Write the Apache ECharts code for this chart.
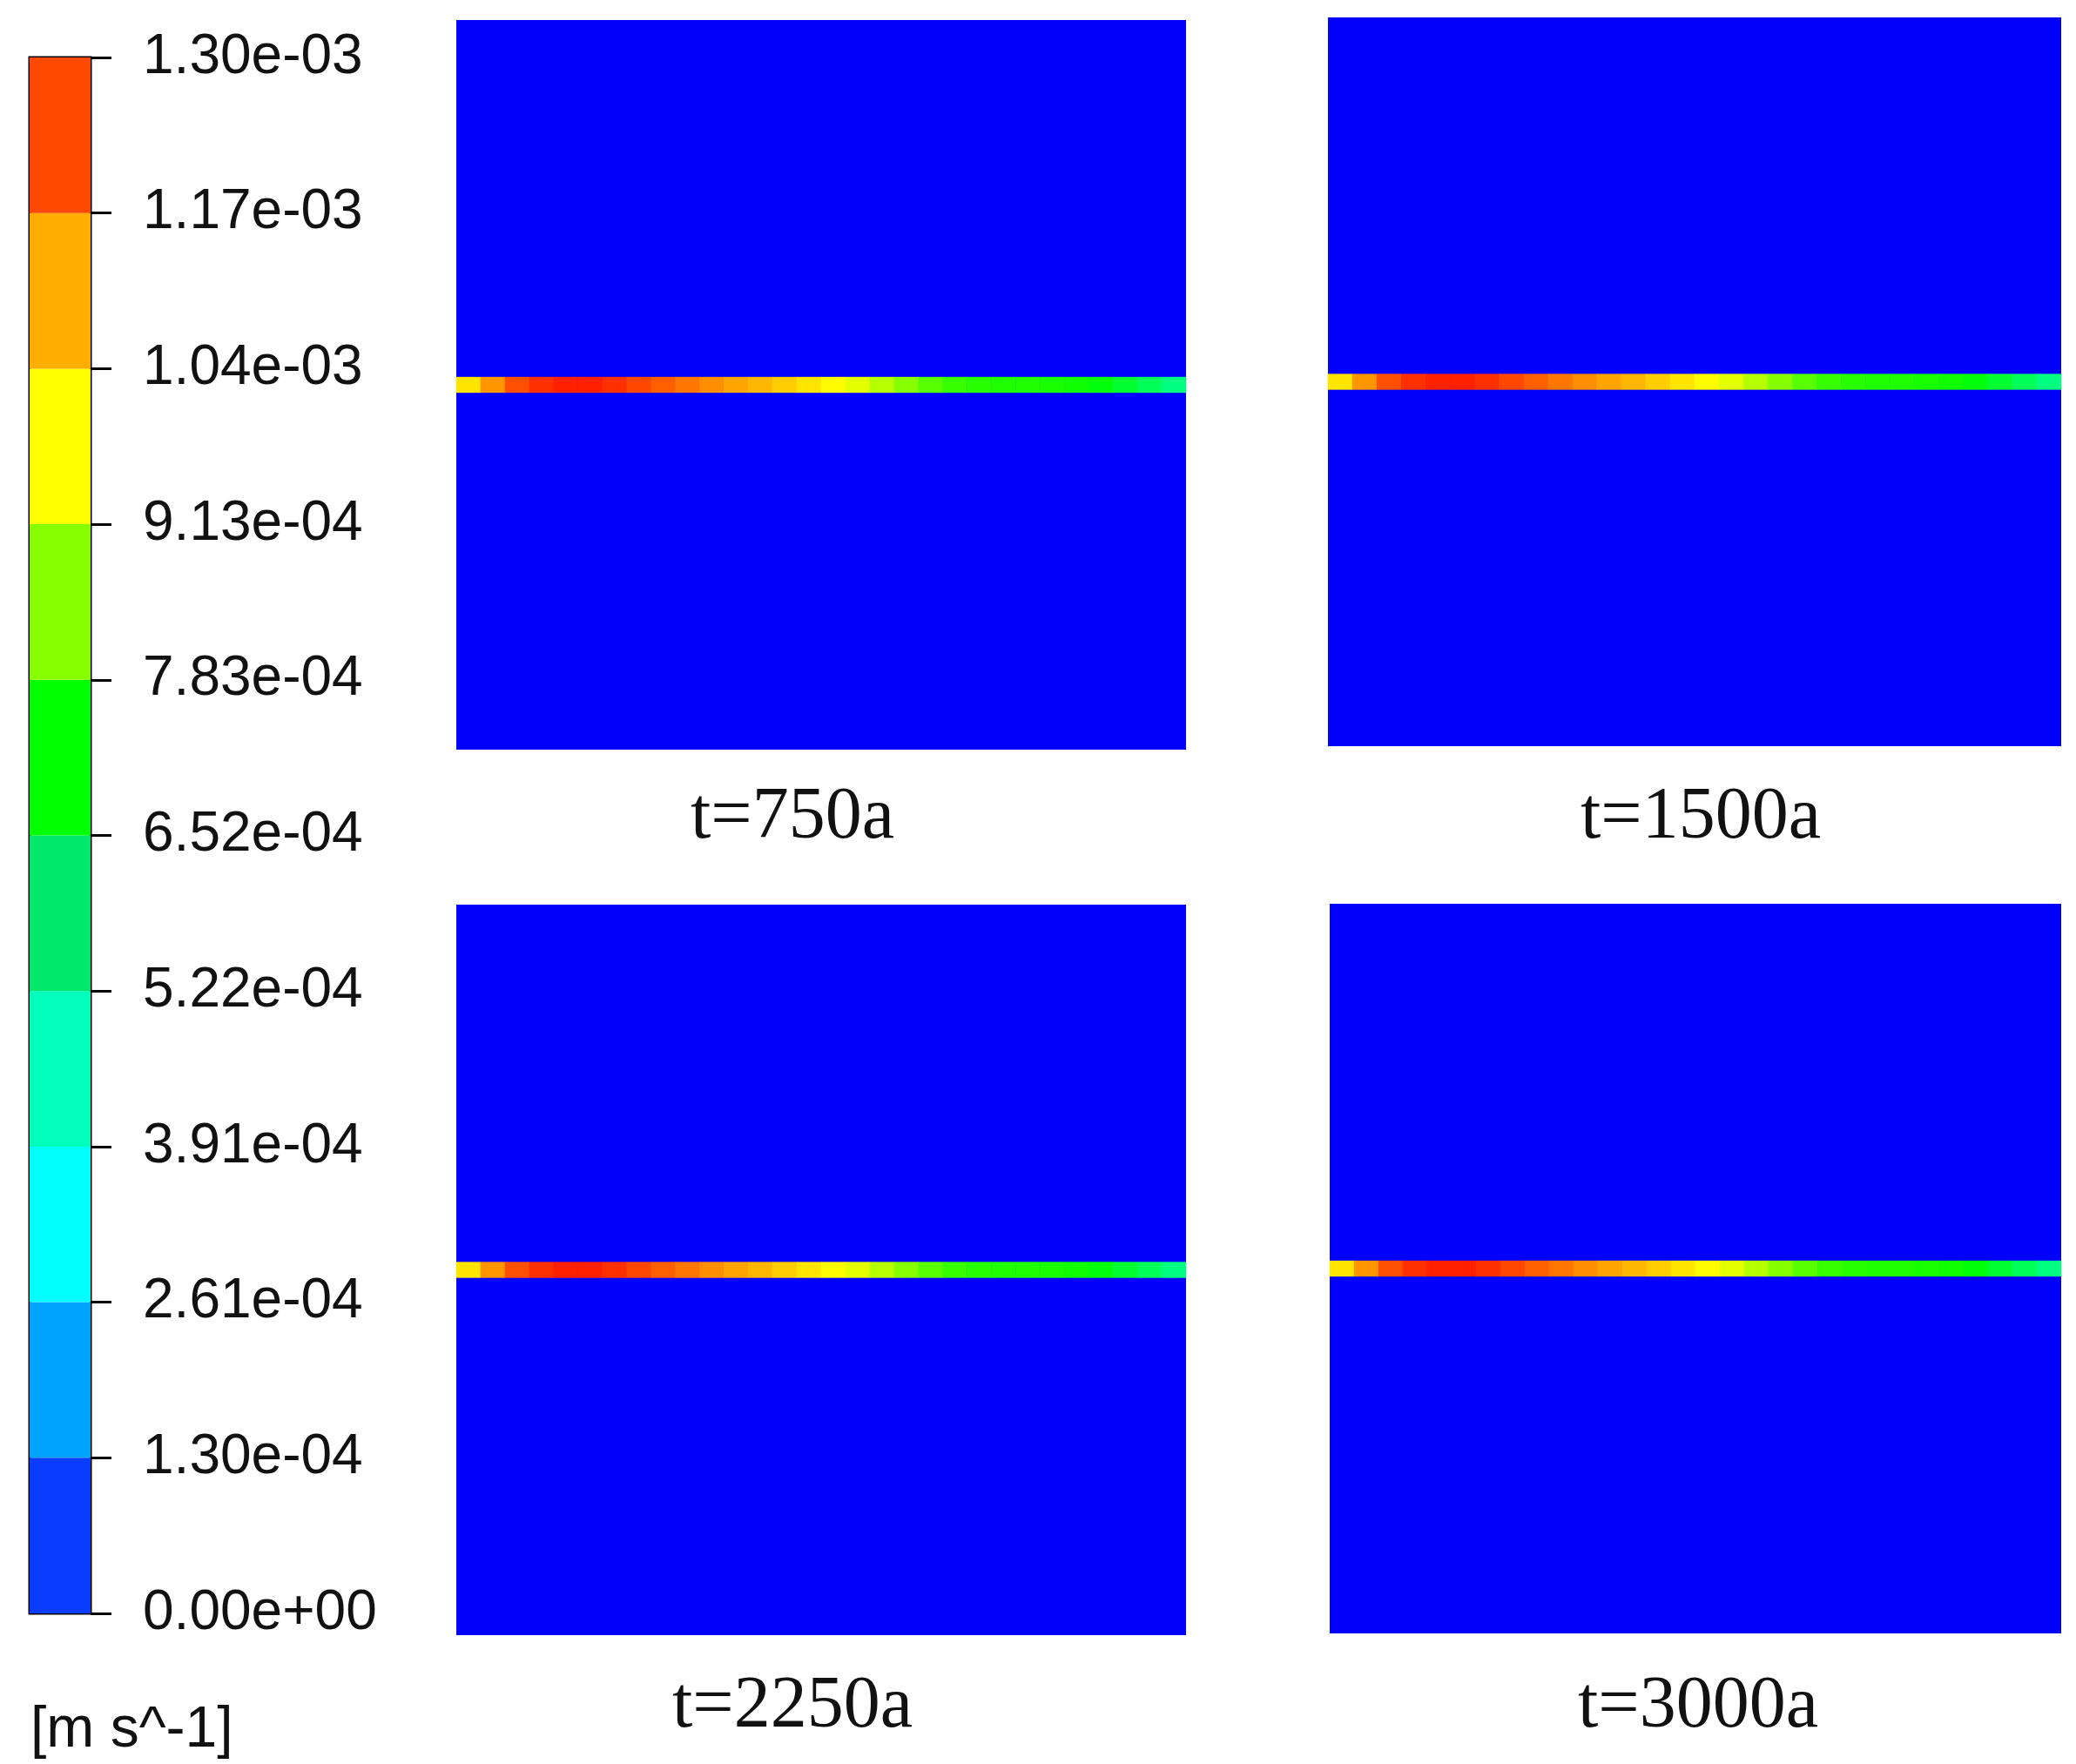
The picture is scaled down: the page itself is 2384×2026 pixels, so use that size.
<!DOCTYPE html>
<html><head><meta charset="utf-8">
<script src="https://cdn.jsdelivr.net/npm/echarts@6/dist/echarts.min.js"></script>
<style>html,body{margin:0;padding:0;background:#fff}#c{width:2384px;height:2026px}</style>
</head><body><div id="c"></div>
<script>
const tickLabels = ['0.00e+00','1.30e-04','2.61e-04','3.91e-04','5.22e-04','6.52e-04','7.83e-04','9.13e-04','1.04e-03','1.17e-03','1.30e-03'];
const bandColors = ['#0a3cff','#00a4ff','#00ffff','#00ffba','#00e86c','#00ff00','#88ff00','#ffff00','#ffae00','#ff4800'];
const panelTitles = ['t=750a','t=1500a','t=2250a','t=3000a'];
const stripeValues = [1.02e-3,1.15e-3,1.24e-3,1.28e-3,1.30e-3,1.30e-3,1.28e-3,1.25e-3,1.22e-3,1.19e-3,1.16e-3,1.13e-3,1.10e-3,1.06e-3,1.02e-3,0.98e-3,0.94e-3,0.88e-3,0.82e-3,0.76e-3,0.72e-3,0.70e-3,0.69e-3,0.69e-3,0.68e-3,0.67e-3,0.64e-3,0.60e-3,0.56e-3,0.52e-3];
const stripeRows = [23,23,23,23];
const nRows = 47;

const panels = [
  {left:524,top:23,width:838,height:838, tx:905, ty:935},
  {left:1525,top:20,width:842,height:837, tx:1948, ty:935},
  {left:524,top:1039,width:838,height:839, tx:905, ty:1956},
  {left:1527,top:1038,width:840,height:838, tx:1945, ty:1956}
];

const chart = echarts.init(document.getElementById('c'));
const grids=[], xAxes=[], yAxes=[], series=[], titles=[];
grids.push({left:34,top:66,width:70,height:1787,show:true,borderColor:'#000',borderWidth:3,backgroundColor:'transparent'});
xAxes.push({type:'category',gridIndex:0,data:['c'],show:false});
yAxes.push({type:'value',gridIndex:0,min:0,max:10,interval:1,position:'right',
  axisLine:{show:false},splitLine:{show:false},
  axisTick:{show:true,length:24,lineStyle:{color:'#000',width:3}},
  axisLabel:{margin:60,fontSize:64,fontFamily:'Liberation Sans',color:'#111',formatter:v=>tickLabels[Math.round(v)]}});
bandColors.forEach((c,i)=>{
  series.push({type:'bar',xAxisIndex:0,yAxisIndex:0,stack:'cb',data:[1],barWidth:'100%',itemStyle:{color:c},silent:true,z:1});
});
const cats=[...Array(stripeValues.length).keys()];
const rows=[...Array(nRows).keys()];
panels.forEach((p,k)=>{
  const gi=k+1;
  grids.push({left:p.left,top:p.top,width:p.width,height:p.height,show:true,backgroundColor:'#0000fb',borderWidth:0});
  xAxes.push({type:'category',gridIndex:gi,data:cats,show:false});
  yAxes.push({type:'category',gridIndex:gi,data:rows,show:false,inverse:true});
  series.push({type:'heatmap',xAxisIndex:gi,yAxisIndex:gi,
    data:stripeValues.map((v,i)=>[i,stripeRows[k],v]),itemStyle:{borderWidth:0}});
  titles.push({text:panelTitles[k],left:p.tx,top:p.ty,textAlign:'center',textVerticalAlign:'middle',
    textStyle:{fontFamily:'Liberation Serif',fontWeight:'normal',fontSize:84,color:'#111'}});
});
titles.push({text:'[m s^-1]',left:30,top:1983,textVerticalAlign:'middle',textStyle:{fontFamily:'Liberation Sans',fontWeight:'normal',fontSize:66,color:'#111'}});
chart.setOption({
  animation:false,
  title:titles,
  grid:grids,xAxis:xAxes,yAxis:yAxes,
  visualMap:{show:false,min:0,max:1.3e-3,seriesIndex:[10,11,12,13],
    inRange:{color:['#0000ff','#00a0ff','#00ffff','#00ffa0','#00ff00','#80ff00','#ffff00','#ffa000','#ff2000']}},
  series:series
});
</script></body></html>
